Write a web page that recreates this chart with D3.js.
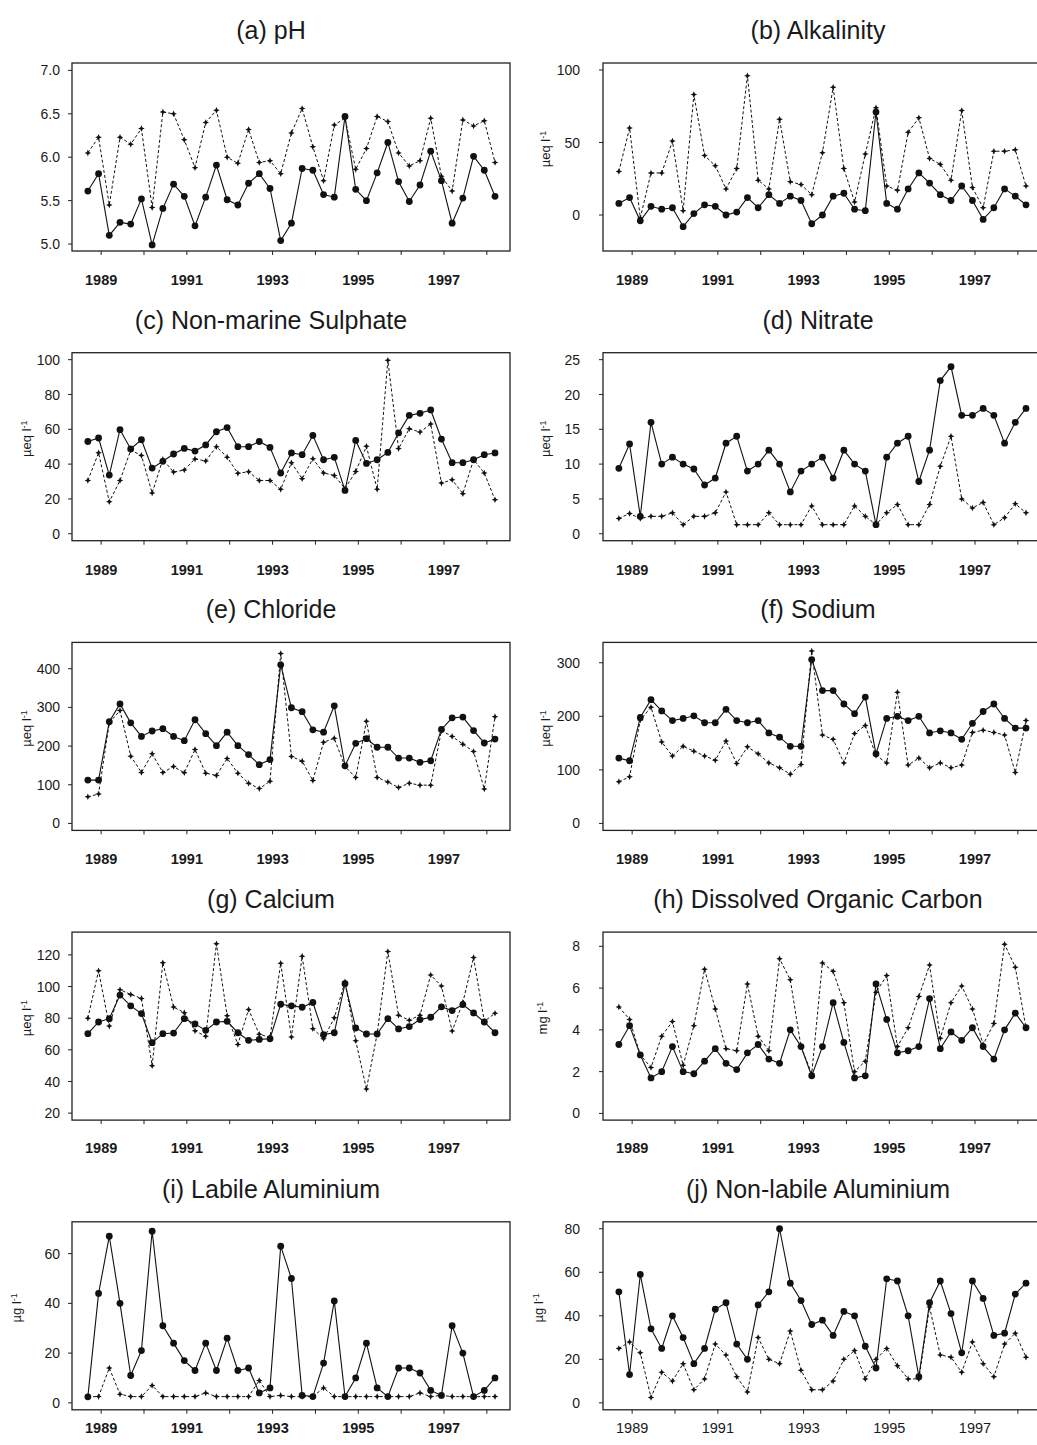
<html>
  <head>
    <meta charset="utf-8">
    <script src="https://d3js.org/d3.v7.min.js"></script>
    <style>
      body { margin: 0; background: #fff; }
      text { font-family: "Liberation Sans", Arial, sans-serif; fill: #1a1a1a; }
    </style>
  </head>
  <body>
    <div id="chart"></div>
  </body>

  <script>
    // quarterly sampling dates (decimal years)
    const sampleDates = [1988.69, 1988.94, 1989.19, 1989.44, 1989.69, 1989.94, 1990.19, 1990.44, 1990.69, 1990.94,
      1991.19, 1991.44, 1991.69, 1991.94, 1992.19, 1992.44, 1992.69, 1992.94, 1993.19, 1993.44,
      1993.69, 1993.94, 1994.19, 1994.44, 1994.69, 1994.94, 1995.19, 1995.44, 1995.69, 1995.94,
      1996.19, 1996.44, 1996.69, 1996.94, 1997.19, 1997.44, 1997.69, 1997.94, 1998.19]

    const yearTicks = [1989, 1990, 1991, 1992, 1993, 1994, 1995, 1996, 1997, 1998]
    const yearLabels = [1989, 1991, 1993, 1995, 1997]

    // (a) pH
    const phSolid = [5.61, 5.81, 5.10, 5.25, 5.23, 5.52, 4.99, 5.41, 5.69, 5.55, 5.21, 5.54, 5.91, 5.51, 5.45, 5.70, 5.81, 5.64, 5.04, 5.24,
      5.87, 5.85, 5.57, 5.54, 6.47, 5.63, 5.50, 5.82, 6.17, 5.72, 5.49, 5.68, 6.07, 5.73, 5.24, 5.53, 6.01, 5.85, 5.55]
    const phDashed = [6.05, 6.23, 5.45, 6.23, 6.15, 6.33, 5.42, 6.52, 6.50, 6.20, 5.88, 6.40, 6.54, 6.00, 5.93, 6.32, 5.94, 5.96, 5.81, 6.28,
      6.56, 6.12, 5.73, 6.37, 6.45, 5.86, 6.10, 6.47, 6.41, 6.05, 5.90, 5.96, 6.45, 5.78, 5.61, 6.43, 6.36, 6.42, 5.94]

    // (b) Alkalinity
    const alkSolid = [8, 12, -4, 6, 4, 5, -8, 1, 7, 6, 0, 2, 12, 5, 14, 8, 13, 10, -6, 0,
      13, 15, 4, 3, 71, 8, 4, 18, 29, 22, 14, 10, 20, 10, -3, 5, 18, 13, 7]
    const alkDashed = [30, 60, -2, 29, 29, 51, 3, 83, 41, 34, 18, 32, 96, 24, 18, 66, 23, 21, 14, 43,
      88, 32, 9, 42, 74, 20, 17, 57, 67, 39, 35, 24, 72, 19, 5, 44, 44, 45, 20]

    // (c) Non-marine Sulphate
    const so4Solid = [53, 55, 33.7, 59.8, 48.7, 54, 37.7, 41.6, 45.8, 49, 47.5, 51, 58.6, 61, 50, 50, 53, 49.6, 34.9, 46.4,
      45.4, 56.5, 42.5, 43.9, 24.9, 53.6, 40.4, 42.5, 46.7, 57.9, 68, 69.2, 71.1, 54.4, 40.8, 40.8, 42.5, 45.4, 46.4]
    const so4Dashed = [30.6, 46.5, 18.4, 30.6, 48, 45, 23.4, 42.7, 35.4, 36.6, 43, 41.8, 50, 44, 34.7, 35.6, 30.6, 30.6, 25.5, 40.8,
      31.6, 43.1, 34.9, 33.5, 25.9, 35.8, 50.2, 25.5, 99.6, 48.9, 60.3, 58.4, 63, 29.1, 31, 23, 42.5, 34.9, 19.5]

    // (d) Nitrate
    const no3Solid = [9.4, 12.9, 2.5, 16, 10, 11, 10, 9.3, 7, 8, 13, 14, 9, 10, 12, 10, 6, 9, 10, 11,
      8, 12, 10, 9, 1.3, 11, 13, 14, 7.5, 12, 22, 24, 17, 17, 18, 17, 13, 16, 18]
    const no3Dashed = [2.2, 2.9, 2.2, 2.5, 2.5, 3, 1.3, 2.5, 2.5, 3, 6, 1.3, 1.3, 1.3, 3, 1.3, 1.3, 1.3, 4, 1.3,
      1.3, 1.3, 4, 2.5, 1.3, 3, 4.2, 1.3, 1.3, 4.2, 9.7, 14, 5, 3.7, 4.5, 1.3, 2.3, 4.3, 3]

    // (e) Chloride
    const clSolid = [112, 112, 263, 309, 260, 225, 239, 245, 225, 214, 268, 232, 201, 236, 201, 178, 152, 165, 410, 299,
      289, 242, 236, 304, 149, 207, 219, 197, 197, 169, 169, 158, 162, 243, 273, 275, 240, 208, 218]
    const clDashed = [69, 76, 260, 292, 174, 132, 180, 132, 147, 131, 191, 130, 124, 168, 130, 104, 90, 109, 439, 173,
      161, 111, 210, 220, 147, 119, 264, 119, 107, 93, 104, 99, 99, 240, 225, 205, 186, 89, 276]

    // (f) Sodium
    const naSolid = [122, 117, 198, 231, 210, 192, 196, 201, 188, 188, 213, 192, 188, 192, 169, 161, 144, 144, 306, 248,
      248, 223, 205, 236, 130, 196, 200, 192, 200, 169, 173, 169, 157, 187, 209, 223, 196, 178, 178]
    const naDashed = [78, 87, 193, 217, 152, 126, 144, 135, 126, 118, 154, 112, 143, 130, 113, 104, 92, 110, 322, 165,
      157, 113, 168, 183, 127, 113, 245, 109, 122, 104, 113, 104, 109, 170, 174, 170, 165, 95, 192]

    // (g) Calcium
    const caSolid = [70.2, 77.6, 79.7, 94.6, 87.8, 82.9, 64.5, 70.2, 70.6, 79.7, 76.4, 72.3, 77.6, 78, 70.8, 66, 66.6, 67, 88.8, 87.8,
      86.9, 89.9, 69.6, 70.8, 101.8, 73.8, 70, 70, 79.7, 73.2, 74.7, 79.1, 80.6, 87.2, 84.8, 88.6, 83.3, 77.6, 70.8]
    const caDashed = [80, 110, 75, 98, 95, 92.5, 50, 115, 87, 83.5, 72, 68.6, 127, 81.5, 63.4, 85.5, 69.8, 67.9, 114.7, 68.1,
      119.2, 73.4, 67, 80.2, 103, 65.8, 35.2, 70, 122.1, 81.9, 78.7, 81.9, 107.3, 100.3, 71.9, 90, 118.3, 78, 83.1]

    // (h) Dissolved Organic Carbon
    const docSolid = [3.3, 4.2, 2.8, 1.7, 2.0, 3.2, 2.0, 1.9, 2.5, 3.1, 2.4, 2.1, 2.9, 3.3, 2.6, 2.4, 4.0, 3.2, 1.8, 3.2,
      5.3, 3.4, 1.7, 1.8, 6.2, 4.5, 2.9, 3.0, 3.2, 5.5, 3.1, 3.9, 3.5, 4.1, 3.2, 2.6, 4.0, 4.8, 4.1]
    const docDashed = [5.1, 4.5, 2.8, 2.2, 3.7, 4.4, 2.3, 4.2, 6.9, 5.0, 3.1, 3.0, 6.2, 3.7, 3.0, 7.4, 6.4, 3.2, 1.9, 7.2,
      6.8, 5.3, 2.0, 2.5, 5.8, 6.6, 3.2, 4.1, 5.6, 7.1, 3.6, 5.3, 6.1, 5.0, 3.3, 4.3, 8.1, 7.0, 4.1]

    // (i) Labile Aluminium
    const labAlSolid = [2.4, 44, 67, 40, 11, 21, 69, 31, 24, 17, 13, 24, 13, 26, 13, 14, 4, 6, 63, 50,
      3, 2.5, 16, 41, 2.5, 10, 24, 6, 2.5, 14, 14, 12, 5, 3, 31, 20, 2.5, 5, 10]
    const labAlDashed = [2.5, 2.5, 14, 3.5, 2.5, 2.5, 7, 2.5, 2.5, 2.5, 2.5, 4, 2.5, 2.5, 2.5, 2.5, 9, 2.5, 3, 2.5,
      2.5, 2.5, 6, 2.5, 2.5, 2.5, 2.5, 2.5, 2.5, 2.5, 2.5, 4, 2.5, 3, 2.5, 2.5, 2.5, 2.5, 2.5]

    // (j) Non-labile Aluminium
    const nlabAlSolid = [51, 13, 59, 34, 25, 40, 30, 18, 25, 43, 46, 27, 20, 45, 51, 80, 55, 47, 36, 38,
      31, 42, 40, 26, 16, 57, 56, 40, 12, 46, 56, 41, 23, 56, 48, 31, 32, 50, 55]
    const nlabAlDashed = [25, 28, 23, 2.5, 14, 10, 18, 6, 11, 27, 22, 12, 5, 30, 20, 18, 33, 15, 6, 6,
      10, 20, 24, 11, 20, 25, 17, 11, 11, 44, 22, 21, 14, 28, 18, 12, 27, 32, 21]

    const ueq = ["µeq l", "-1"]
    const panels = [
      {title: "(a) pH", unit: null, solid: phSolid, dashed: phDashed, yDomain: [4.92, 7.085], yTicks: [5, 5.5, 6, 6.5, 7], fmt: ".1f"},
      {title: "(b) Alkalinity", unit: ueq, solid: alkSolid, dashed: alkDashed, yDomain: [-24.8, 104.8], yTicks: [0, 50, 100], fmt: "d"},
      {title: "(c) Non-marine Sulphate", unit: ueq, solid: so4Solid, dashed: so4Dashed, yDomain: [-4, 104], yTicks: [0, 20, 40, 60, 80, 100], fmt: "d"},
      {title: "(d) Nitrate", unit: ueq, solid: no3Solid, dashed: no3Dashed, yDomain: [-1, 26], yTicks: [0, 5, 10, 15, 20, 25], fmt: "d"},
      {title: "(e) Chloride", unit: ueq, solid: clSolid, dashed: clDashed, yDomain: [-18, 468], yTicks: [0, 100, 200, 300, 400], fmt: "d"},
      {title: "(f) Sodium", unit: ueq, solid: naSolid, dashed: naDashed, yDomain: [-13, 338], yTicks: [0, 100, 200, 300], fmt: "d"},
      {title: "(g) Calcium", unit: ueq, solid: caSolid, dashed: caDashed, yDomain: [15.6, 134.4], yTicks: [20, 40, 60, 80, 100, 120], fmt: "d"},
      {title: "(h) Dissolved Organic Carbon", unit: ["mg l", "-1"], solid: docSolid, dashed: docDashed, yDomain: [-0.32, 8.68], yTicks: [0, 2, 4, 6, 8], fmt: "d"},
      {title: "(i) Labile Aluminium", unit: ["µg l", "-1"], solid: labAlSolid, dashed: labAlDashed, yDomain: [-2.8, 72.8], yTicks: [0, 20, 40, 60], fmt: "d"},
      {title: "(j) Non-labile Aluminium", unit: ["µg l", "-1"], solid: nlabAlSolid, dashed: nlabAlDashed, yDomain: [-3.2, 83.2], yTicks: [0, 20, 40, 60, 80], fmt: "d"}
    ]

    const W = 1037, H = 1445
    const boxW = 438, boxH = 188
    const colLeft = [72, 603]
    const titleX = [271, 818]
    const tickLabelRight = [60, 580]
    const ylabX = [[31, 550], [31, 550], [31, 550], [31, 547], [21, 543]]
    // the bottom row sits tighter to the page edge, so its years are closer to the frame
    const yearOffset = [34, 34, 34, 33, 23]

    const svg = d3.select("#chart")
      .append("svg")
        .attr("width", W)
        .attr("height", H)

    svg.append("rect").attr("width", W).attr("height", H).attr("fill", "#fff")

    // 4-point star marker used for the dashed series
    const starPath = "M0,-3.3L1,-1L3.3,0L1,1L0,3.3L-1,1L-3.3,0L-1,-1Z"

    panels.forEach(function(p, i) {
      const col = i % 2, row = Math.floor(i / 2)
      const left = colLeft[col]
      const top = 63 + row * 289.7

      const g = svg.append("g")

      const x = d3.scaleLinear().domain([1988.32, 1998.54]).range([left, left + boxW])
      const y = d3.scaleLinear().domain(p.yDomain).range([top + boxH, top])

      // title
      g.append("text")
        .attr("x", titleX[col])
        .attr("y", top - 24)
        .attr("text-anchor", "middle")
        .attr("font-size", "25px")
        .text(p.title)

      // frame
      g.append("rect")
        .attr("x", left).attr("y", top)
        .attr("width", boxW).attr("height", boxH)
        .attr("fill", "none")
        .attr("stroke", "#222")
        .attr("stroke-width", 1.3)

      // y axis ticks + labels
      g.selectAll(".ytick")
        .data(p.yTicks)
        .join("line")
          .attr("x1", left - 4).attr("x2", left)
          .attr("y1", d => y(d)).attr("y2", d => y(d))
          .attr("stroke", "#222")
      g.selectAll(".ylab")
        .data(p.yTicks)
        .join("text")
          .attr("x", tickLabelRight[col])
          .attr("y", d => y(d))
          .attr("dy", "0.36em")
          .attr("text-anchor", "end")
          .attr("font-size", "14px")
          .text(d => d3.format(p.fmt)(d))

      // x axis ticks + year labels
      g.selectAll(".xtick")
        .data(yearTicks)
        .join("line")
          .attr("x1", d => x(d)).attr("x2", d => x(d))
          .attr("y1", top + boxH).attr("y2", top + boxH + 4)
          .attr("stroke", "#222")
      g.selectAll(".xlab")
        .data(yearLabels)
        .join("text")
          .attr("x", d => x(d))
          .attr("y", top + boxH + yearOffset[row])
          .attr("text-anchor", "middle")
          .attr("font-size", "14.5px")
          .attr("font-weight", i === 9 ? "normal" : "bold")
          .text(d => d)

      // unit label
      if (p.unit) {
        const t = g.append("text")
          .attr("transform", `translate(${ylabX[row][col]}, ${top + boxH / 2 - 8}) rotate(-90)`)
          .attr("text-anchor", "middle")
          .attr("font-size", "13px")
        t.append("tspan").text(p.unit[0])
        t.append("tspan").attr("font-size", "9px").attr("dy", "-0.5em").text(p.unit[1])
      }

      const solidPts = sampleDates.map((d, k) => [d, p.solid[k]])
      const dashedPts = sampleDates.map((d, k) => [d, p.dashed[k]])
      const line = d3.line().x(d => x(d[0])).y(d => y(d[1]))

      g.append("path")
        .attr("d", line(dashedPts))
        .attr("fill", "none")
        .attr("stroke", "#111")
        .attr("stroke-width", 1)
        .attr("stroke-dasharray", "3,2.2")
      g.selectAll(".dmark")
        .data(dashedPts)
        .join("path")
          .attr("d", starPath)
          .attr("transform", d => `translate(${x(d[0])},${y(d[1])})`)
          .attr("fill", "#111")

      g.append("path")
        .attr("d", line(solidPts))
        .attr("fill", "none")
        .attr("stroke", "#111")
        .attr("stroke-width", 1.1)
      g.selectAll(".smark")
        .data(solidPts)
        .join("circle")
          .attr("cx", d => x(d[0]))
          .attr("cy", d => y(d[1]))
          .attr("r", 3.4)
          .attr("fill", "#111")
    })
  </script>
</html>
